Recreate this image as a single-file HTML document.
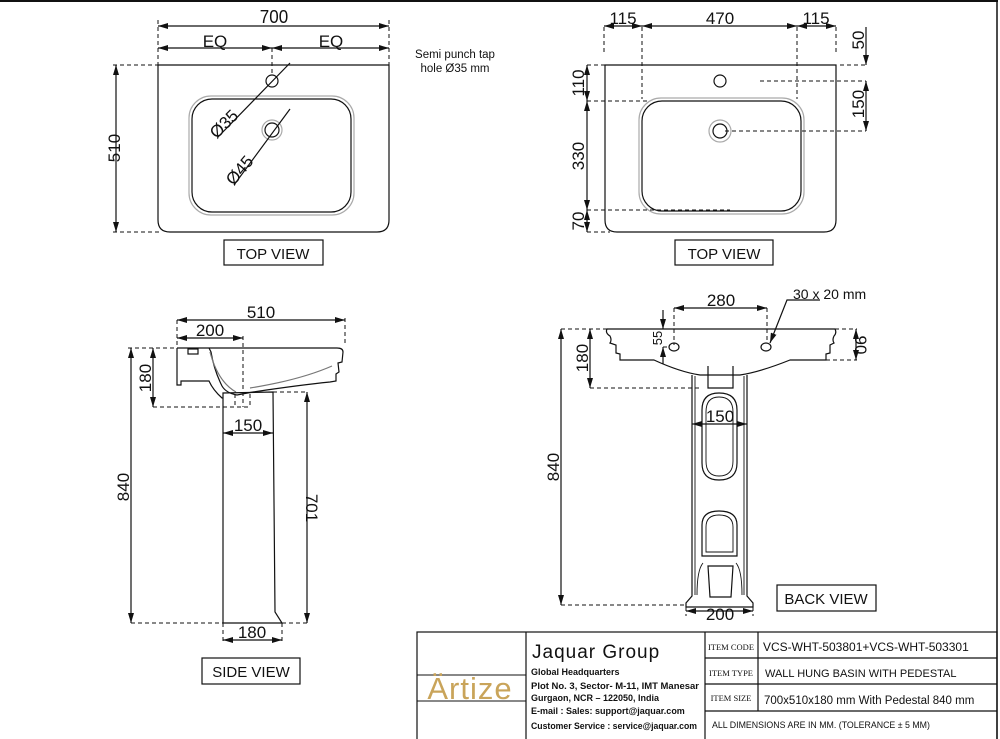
<!DOCTYPE html>
<html><head><meta charset="utf-8"><style>
html,body{margin:0;padding:0;background:#fff;}
svg{display:block;}
text{font-family:"Liberation Sans",sans-serif;fill:#111;}
.d{font-size:17px;}
</style></head><body>
<svg width="1000" height="739" viewBox="0 0 1000 739" xmlns="http://www.w3.org/2000/svg">
<defs>
<marker id="a" viewBox="0 0 10 6" refX="10" refY="3" markerWidth="10" markerHeight="6" orient="auto-start-reverse" markerUnits="userSpaceOnUse"><path d="M0,0L10,3L0,6z" fill="#111"/></marker>
</defs>
<g fill="none" stroke="#111" stroke-width="1.2">
<line x1="0" y1="1" x2="998" y2="1" stroke-width="2"/>
<line x1="997" y1="0" x2="997" y2="739" stroke-width="1.5"/>

<!-- TOP VIEW LEFT -->
<path d="M158,65 L389,65 L389,220 Q389,232 377,232 L170,232 Q158,232 158,220 Z"/>
<rect x="189" y="96" width="165" height="119" rx="22" stroke="#aaa"/>
<rect x="192" y="99" width="159" height="113" rx="20"/>
<circle cx="272" cy="81" r="6"/>
<circle cx="272" cy="130" r="10" stroke="#aaa"/>
<circle cx="272" cy="130" r="7"/>
<g stroke-dasharray="4,3" stroke-width="1">
<line x1="158" y1="20" x2="158" y2="65"/><line x1="389" y1="20" x2="389" y2="65"/>
<line x1="272" y1="48" x2="272" y2="75"/>
<line x1="113" y1="65" x2="158" y2="65"/><line x1="113" y1="232" x2="162" y2="232"/>
</g>
<line x1="158" y1="26" x2="389" y2="26" marker-start="url(#a)" marker-end="url(#a)"/>
<line x1="158" y1="48" x2="272" y2="48" marker-start="url(#a)" marker-end="url(#a)"/>
<line x1="272" y1="48" x2="389" y2="48" marker-start="url(#a)" marker-end="url(#a)"/>
<line x1="116" y1="65" x2="116" y2="232" marker-start="url(#a)" marker-end="url(#a)"/>
<line x1="290" y1="63" x2="218" y2="137"/>
<line x1="290" y1="109" x2="234" y2="185"/>
<rect x="224" y="240" width="99" height="25"/>

<!-- TOP VIEW RIGHT -->
<path d="M605,65 L836,65 L836,220 Q836,232 824,232 L617,232 Q605,232 605,220 Z"/>
<rect x="639" y="98" width="165" height="116" rx="22" stroke="#aaa"/>
<rect x="642" y="101" width="159" height="110" rx="20"/>
<circle cx="720" cy="81" r="6"/>
<circle cx="720" cy="131" r="11" stroke="#aaa"/>
<circle cx="720" cy="131" r="7"/>
<g stroke-dasharray="4,3" stroke-width="1">
<line x1="604" y1="27" x2="604" y2="53"/><line x1="642" y1="27" x2="642" y2="99"/>
<line x1="797" y1="27" x2="797" y2="99"/><line x1="836" y1="27" x2="836" y2="53"/>
<line x1="840" y1="65" x2="866" y2="65"/><line x1="760" y1="81" x2="866" y2="81"/>
<line x1="725" y1="131" x2="866" y2="131"/>
<line x1="587" y1="65" x2="605" y2="65"/><line x1="587" y1="101" x2="650" y2="101"/>
<line x1="587" y1="210" x2="730" y2="210"/><line x1="587" y1="232" x2="610" y2="232"/>
</g>
<line x1="604" y1="26" x2="642" y2="26" marker-start="url(#a)" marker-end="url(#a)"/>
<line x1="642" y1="26" x2="797" y2="26" marker-start="url(#a)" marker-end="url(#a)"/>
<line x1="797" y1="26" x2="836" y2="26" marker-start="url(#a)" marker-end="url(#a)"/>
<line x1="866" y1="27" x2="866" y2="65" marker-end="url(#a)"/>
<line x1="866" y1="81" x2="866" y2="131" marker-start="url(#a)" marker-end="url(#a)"/>
<line x1="587" y1="65" x2="587" y2="101" marker-start="url(#a)" marker-end="url(#a)"/>
<line x1="587" y1="101" x2="587" y2="210" marker-start="url(#a)" marker-end="url(#a)"/>
<line x1="587" y1="210" x2="587" y2="232" marker-start="url(#a)" marker-end="url(#a)"/>
<rect x="675" y="240" width="98" height="25"/>

<!-- SIDE VIEW -->
<path d="M177,348 L337,348 Q343,348 343,352 L342,362 L338,363 L339,372 L336,374 L336,381 L330,382 Q300,385 253,392 L237,395 Q226,393 222,386 Q214,370 211,352 L209,348"/>
<path d="M177,348 L177,385 L181,385 L181,381 L209,381 Q213,390 222,398 L223,398"/>
<path d="M210,352 Q218,382 236,392" stroke="#777"/>
<path d="M250,388 Q300,380 332,366" stroke="#777"/>
<rect x="188" y="349" width="10" height="5"/>
<path d="M223,393 L223,623 L282,623 L275,612 L273,392 Z"/>
<g stroke-dasharray="4,3" stroke-width="1">
<line x1="177" y1="320" x2="177" y2="348"/><line x1="345" y1="318" x2="345" y2="345"/>
<line x1="243" y1="336" x2="243" y2="407"/>
<line x1="128" y1="348" x2="177" y2="348"/>
<line x1="153" y1="407" x2="250" y2="407"/>
<line x1="235" y1="394" x2="235" y2="407"/><line x1="250" y1="394" x2="250" y2="407"/>
<line x1="131" y1="623" x2="223" y2="623"/>
<line x1="273" y1="392" x2="307" y2="392"/><line x1="282" y1="623" x2="307" y2="623"/>
<line x1="223" y1="623" x2="223" y2="642"/><line x1="282" y1="623" x2="282" y2="642"/>
</g>
<line x1="177" y1="320" x2="345" y2="320" marker-start="url(#a)" marker-end="url(#a)"/>
<line x1="177" y1="338" x2="243" y2="338" marker-start="url(#a)" marker-end="url(#a)"/>
<line x1="153" y1="348" x2="153" y2="407" marker-start="url(#a)" marker-end="url(#a)"/>
<line x1="131" y1="348" x2="131" y2="623" marker-start="url(#a)" marker-end="url(#a)"/>
<line x1="307" y1="392" x2="307" y2="623" marker-start="url(#a)" marker-end="url(#a)"/>
<line x1="223" y1="433" x2="273" y2="433" marker-start="url(#a)" marker-end="url(#a)"/>
<line x1="223" y1="640" x2="282" y2="640" marker-start="url(#a)" marker-end="url(#a)"/>
<rect x="202" y="658" width="98" height="26"/>

<!-- BACK VIEW -->
<path d="M607,329 L835,329 Q837,333 834,336 Q832,340 834,343 L830,345 L830,353 L826,354 L826,360 L790,360 Q760,372 740,375 L700,375 Q680,372 654,360 L620,360 L620,354 L616,353 L616,345 L610,343 Q612,340 610,336 Q605,333 607,329 Z"/>
<path d="M692,375 L692,596 L686,603 L686,607 L753,607 L753,603 L747,596 L747,375"/>
<path d="M695,376 L695,595 M744,376 L744,595" stroke-width="0.9"/>
<path d="M708,366 L708,388 L733,388 L733,366" />
<path d="M702,410 Q702,393 719,393 Q737,393 737,410 L737,463 Q737,480 719,480 Q702,480 702,463 Z"/>
<path d="M706,412 Q706,397 719,397 Q733,397 733,412 L733,461 Q733,476 719,476 Q706,476 706,461 Z" stroke-width="0.9"/>
<path d="M702,525 Q702,511 719,511 Q737,511 737,525 L737,556 L702,556 Z"/>
<path d="M706,527 Q706,515 719,515 Q733,515 733,527 L733,552 L706,552 Z" stroke-width="0.9"/>
<path d="M708,566 L733,566 L731,597 L710,597 Z"/>
<path d="M697,595 Q697,570 703,563 M742,595 Q742,570 736,563" stroke-width="0.9"/>
<ellipse cx="674" cy="347" rx="5" ry="4"/>
<ellipse cx="766" cy="347" rx="5" ry="4"/>
<g stroke-dasharray="4,3" stroke-width="1">
<line x1="674" y1="308" x2="674" y2="345"/><line x1="767" y1="308" x2="767" y2="343"/>
<line x1="561" y1="329" x2="607" y2="329"/><line x1="835" y1="329" x2="857" y2="329"/>
<line x1="826" y1="360" x2="857" y2="360"/>
<line x1="590" y1="388" x2="700" y2="388"/>
<line x1="561" y1="605" x2="686" y2="605"/>
<line x1="663" y1="347" x2="670" y2="347"/>
<line x1="686" y1="607" x2="686" y2="616"/><line x1="753" y1="607" x2="753" y2="616"/>
</g>
<line x1="674" y1="308" x2="767" y2="308" marker-start="url(#a)" marker-end="url(#a)"/>
<line x1="663" y1="310" x2="663" y2="329" marker-end="url(#a)"/>
<line x1="663" y1="347" x2="663" y2="364" marker-start="url(#a)"/>
<line x1="856" y1="329" x2="856" y2="360" marker-start="url(#a)" marker-end="url(#a)"/>
<line x1="590" y1="329" x2="590" y2="388" marker-start="url(#a)" marker-end="url(#a)"/>
<line x1="561" y1="329" x2="561" y2="605" marker-start="url(#a)" marker-end="url(#a)"/>
<line x1="692" y1="424" x2="747" y2="424" marker-start="url(#a)" marker-end="url(#a)"/>
<line x1="686" y1="611" x2="753" y2="611" marker-start="url(#a)" marker-end="url(#a)"/>
<polyline points="770,343 787,300 820,300" marker-start="url(#a)"/>
<rect x="777" y="585" width="99" height="26"/>

<!-- TITLE BLOCK -->
<rect x="417" y="632" width="580" height="108"/>
<line x1="526" y1="632" x2="526" y2="739"/>
<line x1="705" y1="632" x2="705" y2="739"/>
<line x1="758" y1="632" x2="758" y2="711"/>
<line x1="705" y1="658" x2="997" y2="658"/>
<line x1="705" y1="684" x2="997" y2="684"/>
<line x1="705" y1="711" x2="997" y2="711"/>
<rect x="417" y="675" width="109" height="26" stroke-width="1"/>
</g>

<!-- TEXT -->
<g class="d">
<text x="274" y="24" text-anchor="middle" transform="translate(0,-2.4) scale(1,1.1)" style="transform-box:fill-box">700</text>
<text x="215" y="47" text-anchor="middle">EQ</text>
<text x="331" y="47" text-anchor="middle">EQ</text>
<text transform="translate(120,148) rotate(-90)" text-anchor="middle">510</text>
<text transform="translate(228,128) rotate(-45)" text-anchor="middle">Ø35</text>
<text transform="translate(244,174) rotate(-50)" text-anchor="middle">Ø45</text>
<text x="623" y="24" text-anchor="middle">115</text>
<text x="720" y="24" text-anchor="middle">470</text>
<text x="816" y="24" text-anchor="middle">115</text>
<text transform="translate(864,40) rotate(-90)" text-anchor="middle">50</text>
<text transform="translate(864,104) rotate(-90)" text-anchor="middle">150</text>
<text transform="translate(584,83) rotate(-90)" text-anchor="middle">110</text>
<text transform="translate(584,156) rotate(-90)" text-anchor="middle">330</text>
<text transform="translate(584,221) rotate(-90)" text-anchor="middle">70</text>
<text x="261" y="318" text-anchor="middle">510</text>
<text x="210" y="336" text-anchor="middle">200</text>
<text transform="translate(151,378) rotate(-90)" text-anchor="middle">180</text>
<text transform="translate(129,487) rotate(-90)" text-anchor="middle">840</text>
<text transform="translate(306,508) rotate(90)" text-anchor="middle">701</text>
<text x="248" y="431" text-anchor="middle">150</text>
<text x="252" y="638" text-anchor="middle">180</text>
<text x="721" y="306" text-anchor="middle">280</text>
<text transform="translate(662,338) rotate(-90)" text-anchor="middle" style="font-size:13px">55</text>
<text transform="translate(855,345) rotate(90)" text-anchor="middle">90</text>
<text transform="translate(588,358) rotate(-90)" text-anchor="middle">180</text>
<text transform="translate(559,467) rotate(-90)" text-anchor="middle">840</text>
<text x="720" y="422" text-anchor="middle">150</text>
<text x="720" y="620" text-anchor="middle">200</text>
</g>
<text x="455" y="58" text-anchor="middle" font-size="11.5">Semi punch tap</text>
<text x="455" y="72" text-anchor="middle" font-size="11.5">hole  Ø35  mm</text>
<text x="793" y="299" font-size="14">30 x 20 mm</text>
<text x="273" y="259" text-anchor="middle" font-size="15">TOP VIEW</text>
<text x="724" y="259" text-anchor="middle" font-size="15">TOP VIEW</text>
<text x="251" y="677" text-anchor="middle" font-size="15">SIDE VIEW</text>
<text x="826" y="604" text-anchor="middle" font-size="15">BACK VIEW</text>

<text x="470" y="699" text-anchor="middle" font-size="31" style="fill:#c9a45a;letter-spacing:1px">Ärtize</text>
<text x="532" y="658" font-size="19" style="letter-spacing:1px">Jaquar  Group</text>
<text x="531" y="675" font-size="9" font-weight="bold">Global Headquarters</text>
<text x="531" y="689" font-size="9" font-weight="bold" textLength="168" lengthAdjust="spacingAndGlyphs">Plot No. 3, Sector- M-11, IMT Manesar</text>
<text x="531" y="701" font-size="9" font-weight="bold">Gurgaon, NCR – 122050, India</text>
<text x="531" y="714" font-size="9" font-weight="bold">E-mail : Sales: support@jaquar.com</text>
<text x="531" y="729" font-size="9" font-weight="bold" textLength="166" lengthAdjust="spacingAndGlyphs">Customer Service : service@jaquar.com</text>
<text x="731" y="650" text-anchor="middle" font-size="8.5" style="font-family:'Liberation Serif',serif">ITEM CODE</text>
<text x="731" y="676" text-anchor="middle" font-size="8.5" style="font-family:'Liberation Serif',serif">ITEM TYPE</text>
<text x="731" y="701" text-anchor="middle" font-size="8.5" style="font-family:'Liberation Serif',serif">ITEM SIZE</text>
<text x="763" y="651" font-size="12">VCS-WHT-503801+VCS-WHT-503301</text>
<text x="765" y="677" font-size="11">WALL HUNG BASIN WITH PEDESTAL</text>
<text x="764" y="704" font-size="11.5">700x510x180 mm With Pedestal 840 mm</text>
<text x="712" y="728" font-size="8.8">ALL DIMENSIONS ARE IN MM. (TOLERANCE ± 5 MM)</text>
</svg>
</body></html>
